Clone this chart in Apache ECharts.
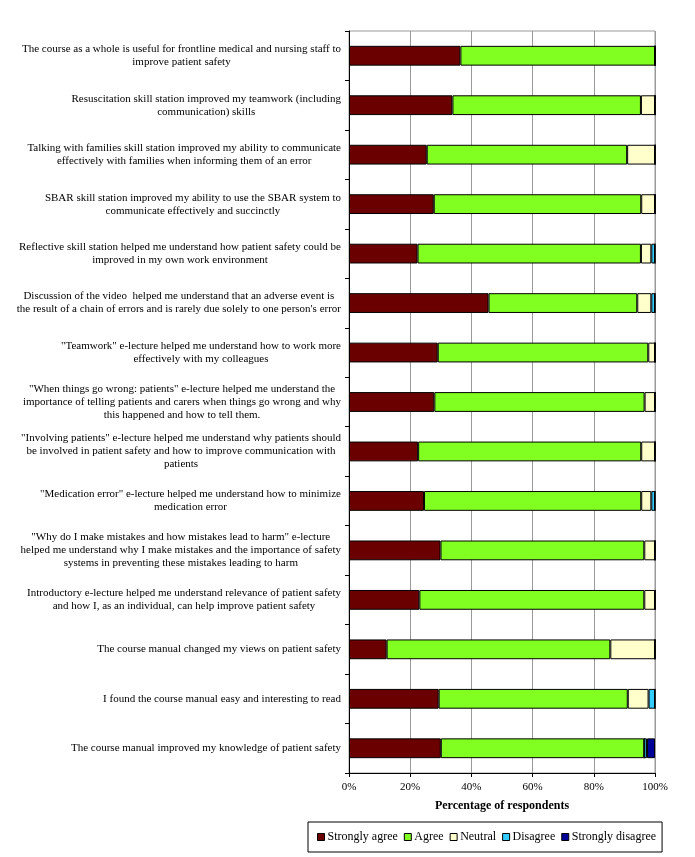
<!DOCTYPE html>
<html>
<head>
<meta charset="utf-8">
<script src="https://cdn.jsdelivr.net/npm/echarts@6/dist/echarts.min.js"></script>
<style>html,body{margin:0;padding:0;background:#fff;}#c{width:695px;height:857px;}</style>
</head>
<body>
<div id="c"></div>
<script>
var categories = [
  "The course as a whole is useful for frontline medical and nursing staff to\nimprove patient safety",
  "Resuscitation skill station improved my teamwork (including\ncommunication) skills",
  "Talking with families skill station improved my ability to communicate\neffectively with families when informing them of an error",
  "SBAR skill station improved my ability to use the SBAR system to\ncommunicate effectively and succinctly",
  "Reflective skill station helped me understand how patient safety could be\nimproved in my own work environment",
  "Discussion of the video  helped me understand that an adverse event is\nthe result of a chain of errors and is rarely due solely to one person's error",
  "\"Teamwork\" e-lecture helped me understand how to work more\neffectively with my colleagues",
  "\"When things go wrong: patients\" e-lecture helped me understand the\nimportance of telling patients and carers when things go wrong and why\nthis happened and how to tell them.",
  "\"Involving patients\" e-lecture helped me understand why patients should\nbe involved in patient safety and how to improve communication with\npatients",
  "\"Medication error\" e-lecture helped me understand how to minimize\nmedication error",
  "\"Why do I make mistakes and how mistakes lead to harm\" e-lecture\nhelped me understand why I make mistakes and the importance of safety\nsystems in preventing these mistakes leading to harm",
  "Introductory e-lecture helped me understand relevance of patient safety\nand how I, as an individual, can help improve patient safety",
  "The course manual changed my views on patient safety",
  "I found the course manual easy and interesting to read",
  "The course manual improved my knowledge of patient safety"
];
var stronglyAgree    = [36.4, 33.8, 25.4, 27.7, 22.4, 45.6, 29.0, 27.9, 22.6, 24.5, 29.9, 23.0, 12.3, 29.3, 30.0];
var agree            = [63.6, 61.6, 65.5, 67.8, 73.0, 48.6, 68.8, 68.7, 72.9, 71.0, 66.6, 73.5, 73.1, 61.8, 66.5];
var neutral          = [0,    4.6,  9.1,  4.5,  3.4,  4.6,  2.2,  3.4,  4.5,  3.3,  3.5,  3.5,  14.6, 6.8,  0];
var disagree         = [0,    0,    0,    0,    1.2,  1.2,  0,    0,    0,    1.2,  0,    0,    0,    2.1,  0.9];
var stronglyDisagree = [0,    0,    0,    0,    0,    0,    0,    0,    0,    0,    0,    0,    0,    0,    2.6];
var xTicks = [0, 20, 40, 60, 80, 100];
var seriesNames = ["Strongly agree", "Agree", "Neutral", "Disagree", "Strongly disagree"];
var seriesColors = ["#6b0000", "#80ff20", "#ffffcc", "#33ccff", "#000099"];

var FONT = "'Liberation Serif', 'Times New Roman', serif";
var values = [stronglyAgree, agree, neutral, disagree, stronglyDisagree];
var series = seriesNames.map(function (n, i) {
  return {
    name: n, type: 'bar', stack: 'all', barWidth: '40%',
    data: values[i],
    itemStyle: { color: seriesColors[i], borderColor: '#000', borderWidth: 1 },
    emphasis: { disabled: true }
  };
});

var chart = echarts.init(document.getElementById('c'), null, { renderer: 'canvas' });
chart.setOption({
  animation: false,
  backgroundColor: '#fff',
  textStyle: { fontFamily: FONT },
  grid: { left: 349, right: 40, top: 31, bottom: 84, containLabel: false, outerBoundsMode: 'none',
          show: true, borderColor: '#999', borderWidth: 1 },
  xAxis: {
    type: 'value', min: xTicks[0], max: xTicks[xTicks.length - 1], interval: 20,
    name: 'Percentage of respondents', nameLocation: 'middle', nameGap: 27,
    nameTextStyle: { fontFamily: FONT, fontSize: 12, fontWeight: 'bold', color: '#000' },
    axisLine: { show: true, lineStyle: { color: '#000' } },
    axisTick: { show: true, length: 4, lineStyle: { color: '#000' } },
    axisLabel: { formatter: '{value}%', fontFamily: FONT, fontSize: 11, color: '#000', margin: 9 },
    splitLine: { show: true, lineStyle: { color: '#999', width: 1 } }
  },
  yAxis: {
    type: 'category', inverse: true, data: categories,
    axisLine: { show: true, lineStyle: { color: '#000' } },
    axisTick: { show: true, length: 4, lineStyle: { color: '#000' } },
    axisLabel: {
      align: 'right', margin: 8, color: '#000',
      formatter: function (v) {
        return v.split('\n').map(function (l) { return '{c|' + l + '}'; }).join('\n');
      },
      rich: { c: { align: 'center', fontFamily: FONT, fontSize: 11, lineHeight: 13, color: '#000' } }
    },
    splitLine: { show: false }
  },
  legend: {
    data: seriesNames,
    left: 308, top: 822,
    padding: [9, 6, 9, 9],
    borderColor: '#000', borderWidth: 1,
    itemWidth: 7, itemHeight: 7, itemGap: 6,
    icon: 'rect',
    itemStyle: { borderColor: '#000', borderWidth: 1 },
    textStyle: { fontFamily: FONT, fontSize: 12, color: '#000', padding: [0, 0, 0, -2] }
  },
  series: series
});
</script>
</body>
</html>
